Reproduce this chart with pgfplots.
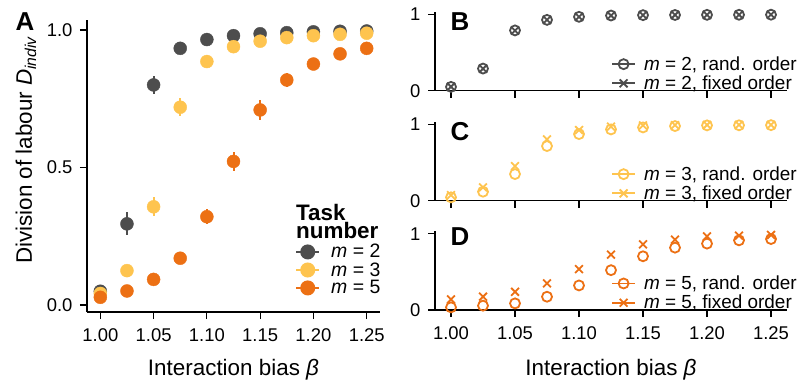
\documentclass[border=0pt]{standalone}
\usepackage{pgfplots}
\pgfplotsset{compat=1.18}
\usepackage{pgfplotstable}
\usepackage{fontspec}
\setmainfont{Liberation Sans}
\definecolor{cgray}{HTML}{4D4D4D}
\definecolor{clight}{HTML}{FEC44F}
\definecolor{corange}{HTML}{EC7014}

% Panel A: mean and error
\pgfplotstableread{
x y e
1.000 0.050 0.010
1.025 0.295 0.042
1.050 0.800 0.033
1.075 0.933 0.012
1.100 0.965 0.010
1.125 0.979 0.008
1.150 0.986 0.005
1.175 0.990 0.005
1.200 0.993 0.004
1.225 0.995 0.004
1.250 0.996 0.004
}\Atwo
\pgfplotstableread{
x y e
1.000 0.042 0.010
1.025 0.125 0.015
1.050 0.357 0.034
1.075 0.719 0.032
1.100 0.885 0.015
1.125 0.939 0.010
1.150 0.959 0.008
1.175 0.972 0.006
1.200 0.979 0.005
1.225 0.984 0.004
1.250 0.988 0.004
}\Athree
\pgfplotstableread{
x y e
1.000 0.028 0.008
1.025 0.051 0.010
1.050 0.093 0.012
1.075 0.170 0.015
1.100 0.321 0.028
1.125 0.522 0.036
1.150 0.709 0.035
1.175 0.818 0.025
1.200 0.876 0.015
1.225 0.913 0.010
1.250 0.933 0.010
}\Afive
% Panel B
\pgfplotstableread{
x rand fixed
1.000 0.050 0.052
1.025 0.290 0.288
1.050 0.790 0.788
1.075 0.928 0.928
1.100 0.968 0.968
1.125 0.985 0.985
1.150 0.990 0.990
1.175 0.992 0.992
1.200 0.994 0.994
1.225 0.995 0.995
1.250 0.996 0.996
}\Bdat
% Panel C
\pgfplotstableread{
x rand fixed
1.000 0.044 0.074
1.025 0.118 0.175
1.050 0.349 0.454
1.075 0.716 0.803
1.100 0.873 0.926
1.125 0.934 0.970
1.150 0.960 0.987
1.175 0.978 0.990
1.200 0.987 0.992
1.225 0.988 0.993
1.250 0.990 0.994
}\Cdat
% Panel D
\pgfplotstableread{
x rand fixed
1.000 0.035 0.139
1.025 0.057 0.174
1.050 0.087 0.239
1.075 0.174 0.348
1.100 0.322 0.535
1.125 0.522 0.726
1.150 0.704 0.861
1.175 0.817 0.922
1.200 0.870 0.965
1.225 0.913 0.974
1.250 0.930 0.983
}\Ddat

\pgfplotsset{
 base/.style={
  scale only axis,
  axis x line*=bottom, axis y line*=left,
  axis line style={line width=1.3bp, black, -},
  tick align=outside,
  major tick length=7bp,
  every tick/.style={line width=1.2bp, black},
  /pgf/number format/assume math mode=true,
  tick label style={font=\fontsize{18.5}{18.5}\selectfont},
  xticklabel style={yshift=-6bp},
  yticklabel style={xshift=-4bp},
  label style={font=\fontsize{22.5}{22.5}\selectfont},
  clip=false,
  xmin=0.9875, xmax=1.2625,
  xtick={1,1.05,1.1,1.15,1.2,1.25},
  xticklabel style={/pgf/number format/.cd, fixed, fixed zerofill, precision=2},
 },
 small/.style={
  base, width=352bp, height=79bp, ymin=0, ymax=1.035, ytick={0,1},
  legend style={at={(axis description cs:0.5,0.46)}, anchor=north west,
    draw=none, fill=none, inner sep=0pt, font=\fontsize{19}{19}\selectfont,
    cells={anchor=west}, column sep=6bp, row sep=0bp},
  legend image code/.code={\draw[mark repeat=2,mark phase=2,#1] plot coordinates {(0bp,0bp) (11.5bp,0bp) (23bp,0bp)};},
 },
}

\begin{document}
\begin{tikzpicture}[x=1bp,y=1bp]
\useasboundingbox (0,0) rectangle (802,-390);

% ---------------- Panel A
\begin{axis}[base, at={(87bp,-312bp)}, anchor=south west, width=293bp, height=292bp,
 ymin=-0.0255, ymax=1.036, ytick={0,0.5,1},
 yticklabel style={/pgf/number format/.cd, fixed, fixed zerofill, precision=1},
 xlabel={Interaction bias \textit{β}},
 ylabel={Division of labour \textit{D}\textsubscript{\textit{indiv}}},
 xlabel style={at={(axis description cs:0.5,-0.199)}, anchor=center},
 ylabel style={at={(axis description cs:-0.208,0.555)}, anchor=center},
 legend style={at={(axis description cs:0.710,0.239)}, anchor=north west,
   draw=none, fill=none, inner sep=0pt, font=\fontsize{19.5}{19.5}\selectfont,
   cells={anchor=west}, column sep=9bp, row sep=-1bp},
 legend image code/.code={\draw[mark repeat=2,mark phase=2,#1] plot coordinates {(0bp,0bp) (11.5bp,0bp) (23bp,0bp)};},
]
\addplot[forget plot, only marks, mark=*, mark size=6.5bp, color=cgray, mark options={fill=cgray, draw=cgray},
  error bars/.cd, y dir=both, y explicit, error mark=none, error bar style={line width=2bp, cgray}]
  table[x=x, y=y, y error=e]{\Atwo};
\addplot[forget plot, only marks, mark=*, mark size=6.5bp, color=clight, mark options={fill=clight, draw=clight},
  error bars/.cd, y dir=both, y explicit, error mark=none, error bar style={line width=2bp, clight}]
  table[x=x, y=y, y error=e]{\Athree};
\addplot[forget plot, only marks, mark=*, mark size=6.5bp, color=corange, mark options={fill=corange, draw=corange},
  error bars/.cd, y dir=both, y explicit, error mark=none, error bar style={line width=2bp, corange}]
  table[x=x, y=y, y error=e]{\Afive};
\addlegendimage{cgray, line width=2bp, mark=*, mark size=6.5bp, mark options={fill=cgray}}
\addlegendentry{\textit{m} = 2}
\addlegendimage{clight, line width=2bp, mark=*, mark size=6.5bp, mark options={fill=clight}}
\addlegendentry{\textit{m} = 3}
\addlegendimage{corange, line width=2bp, mark=*, mark size=6.5bp, mark options={fill=corange}}
\addlegendentry{\textit{m} = 5}
\end{axis}

% ---------------- Panel B
\begin{axis}[small, at={(435bp,-90.7bp)}, anchor=south west, xticklabels={}]
\addplot[forget plot, only marks, mark=o, mark size=5bp, color=cgray, line width=1.8bp] table[x=x, y=rand]{\Bdat};
\addplot[forget plot, only marks, mark=x, mark size=5.5bp, color=cgray, line width=1.8bp] table[x=x, y=fixed]{\Bdat};
\addlegendimage{cgray, line width=1.8bp, mark=o, mark size=5bp}
\addlegendentry{\textit{m} = 2, rand. order}
\addlegendimage{cgray, line width=1.8bp, mark=x, mark size=5.5bp}
\addlegendentry{\textit{m} = 2, fixed order}
\end{axis}

% ---------------- Panel C
\begin{axis}[small, at={(435bp,-200.7bp)}, anchor=south west, xticklabels={}]
\addplot[forget plot, only marks, mark=o, mark size=5bp, color=clight, line width=1.8bp] table[x=x, y=rand]{\Cdat};
\addplot[forget plot, only marks, mark=x, mark size=5.5bp, color=clight, line width=1.8bp] table[x=x, y=fixed]{\Cdat};
\addlegendimage{clight, line width=1.8bp, mark=o, mark size=5bp}
\addlegendentry{\textit{m} = 3, rand. order}
\addlegendimage{clight, line width=1.8bp, mark=x, mark size=5.5bp}
\addlegendentry{\textit{m} = 3, fixed order}
\end{axis}

% ---------------- Panel D
\begin{axis}[small, at={(435bp,-310bp)}, anchor=south west,
 xlabel={Interaction bias \textit{β}},
 xlabel style={at={(axis description cs:0.5,-0.757)}, anchor=center}]
\addplot[forget plot, only marks, mark=o, mark size=5bp, color=corange, line width=1.8bp] table[x=x, y=rand]{\Ddat};
\addplot[forget plot, only marks, mark=x, mark size=5.5bp, color=corange, line width=1.8bp] table[x=x, y=fixed]{\Ddat};
\addlegendimage{corange, line width=1.8bp, mark=o, mark size=5bp}
\addlegendentry{\textit{m} = 5, rand. order}
\addlegendimage{corange, line width=1.8bp, mark=x, mark size=5.5bp}
\addlegendentry{\textit{m} = 5, fixed order}
\end{axis}

% legend title and panel letters
\node[anchor=north west, align=left, inner sep=0pt, font=\bfseries\fontsize{22.5}{18}\selectfont] at (296bp,-204bp) {Task\\number};
\node[inner sep=0pt, font=\bfseries\fontsize{26}{26}\selectfont] at (25bp,-22bp) {A};
\node[inner sep=0pt, font=\bfseries\fontsize{26}{26}\selectfont] at (460bp,-21.7bp) {B};
\node[inner sep=0pt, font=\bfseries\fontsize{26}{26}\selectfont] at (460bp,-131.7bp) {C};
\node[inner sep=0pt, font=\bfseries\fontsize{26}{26}\selectfont] at (460bp,-236.7bp) {D};
\end{tikzpicture}
\end{document}
